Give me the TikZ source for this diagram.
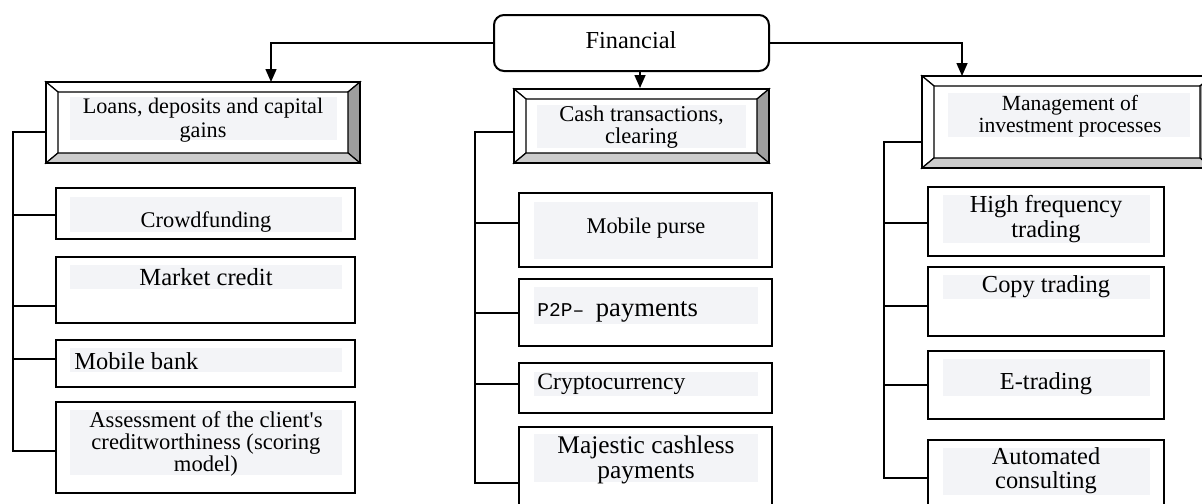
\documentclass[tikz,border=0pt]{standalone}
\usepackage{fontspec}
\setmainfont{Liberation Serif}
\setmonofont{Liberation Mono}
\usetikzlibrary{arrows.meta,fit}

\definecolor{paleshade}{RGB}{243,244,247}
\definecolor{bevelside}{RGB}{158,158,158}
\definecolor{bevelbase}{RGB}{204,204,204}

\newcommand{\fsz}[2]{\fontsize{#1}{#2}\selectfont}

\tikzset{
  link/.style={line width=0.75pt},
  arr/.style={link, -{Triangle[length=6.5pt,width=5.5pt]}},
  item/.style={draw, line width=1pt, fill=white, inner sep=0pt},
  txt/.style={inner sep=0pt, align=center, font=\fsz{11.2}{11}},
  big/.style={font=\fsz{12.2}{12.5}},
  bev/.style={line width=0.6pt},
}

% raised box: name, x1, y1, x2, y2
\newcommand{\bevelbox}[5]{%
  \node[item, fit={(#2,#3) (#4,#5)}] (#1) {};
  \filldraw[bev, fill=white] (#2,#3) -- (#4,#3) -- (#4-12,#3+10) -- (#2+12,#3+10) -- cycle;
  \filldraw[bev, fill=white] (#2,#3) -- (#2+12,#3+10) -- (#2+12,#5-10) -- (#2,#5) -- cycle;
  \filldraw[bev, fill=bevelside] (#4,#3) -- (#4,#5) -- (#4-12,#5-10) -- (#4-12,#3+10) -- cycle;
  \filldraw[bev, fill=bevelbase] (#2,#5) -- (#4,#5) -- (#4-12,#5-10) -- (#2+12,#5-10) -- cycle;
  \draw[line width=1pt] (#2,#3) rectangle (#4,#5);
}

\begin{document}
\begin{tikzpicture}[x=0.5pt, y=-0.5pt]
\useasboundingbox (0,0) rectangle (1202,503);
\clip (0,0) rectangle (1202,503);

% head
\node[item, rounded corners=5pt, fit={(494,15) (769,71)}] (fin) {};
\node[txt, big] (fintxt) at (631,40) {Financial};

% groups
\bevelbox{loans}{46}{82}{360}{163}
\fill[paleshade] (70,97) rectangle (337,140);
\node[txt, font=\fsz{11.1}{12}] (loanstxt) at (203,120) {Loans, deposits and capital\\gains};

\bevelbox{cash}{514}{89}{769}{163}
\fill[paleshade] (537,105) rectangle (746,148);
\node[txt, font=\fsz{11.3}{11}] (cashtxt) at (641.5,127) {Cash transactions,\\clearing};

\bevelbox{mgmt}{922}{76}{1212}{168}
\fill[paleshade] (948,93) rectangle (1190,137);
\node[txt, font=\fsz{10.8}{11}] (mgmttxt) at (1070,116) {Management of\\investment processes};

\draw[arr] (fin.west) -| (271,82);
\draw[arr] (fin.south -| 640,0) -- (cash.north -| 640,0);
\draw[arr] (fin.east) -| (962,76);

% left column
\node[item, fit={(56,188) (355,239)}] (crowd) {};
\fill[paleshade] (70,197) rectangle (342,232);
\node[txt] (crowdtxt) at (206,222) {Crowdfunding};

\node[item, fit={(56,257) (355,323)}] (mkt) {};
\fill[paleshade] (70,265) rectangle (342,289);
\node[txt, font=\fsz{12.3}{12}] (mkttxt) at (206,277) {Market credit};

\node[item, fit={(56,340) (355,387)}] (mob) {};
\fill[paleshade] (70,348) rectangle (342,372);
\node[txt, big, anchor=west] (mobtxt) at (74,361) {Mobile bank};

\node[item, fit={(56,402) (355,493)}] (assess) {};
\fill[paleshade] (70,410) rectangle (342,475);
\node[txt, font=\fsz{11.3}{10.8}] (assesstxt) at (206,444) {Assessment of the client\textquotesingle s\\creditworthiness (scoring\\model)};

\coordinate (busL) at (13,132);
\draw[link] (loans.west |- busL) -- (busL) |- (assess.west |- 0,451);
\draw[link] (busL |- 0,215) -- (crowd.west |- 0,215);
\draw[link] (busL |- 0,306) -- (mkt.west |- 0,306);
\draw[link] (busL |- 0,359) -- (mob.west |- 0,359);

% middle column
\node[item, fit={(519,193) (772,267)}] (purse) {};
\fill[paleshade] (534,202) rectangle (758,259);
\node[txt] (pursetxt) at (646,228) {Mobile purse};

\node[item, fit={(519,279) (772,346)}] (ptp) {};
\fill[paleshade] (534,287) rectangle (758,324);
\node[txt, anchor=west] (ptptxt) at (537,312) {{\ttfamily\fsz{9.75}{11}P2P– }\fsz{13.3}{13}payments};

\node[item, fit={(519,363) (772,413)}] (crypto) {};
\fill[paleshade] (534,372) rectangle (758,396);
\node[txt, font=\fsz{11.8}{12}, anchor=west] (cryptotxt) at (537,384) {Cryptocurrency};

\node[item, fit={(519,427) (772,530)}] (maj) {};
\fill[paleshade] (534,434) rectangle (758,482);
\node[txt, font=\fsz{12.7}{12.5}] (majtxt) at (646,459.5) {Majestic cashless\\payments};

\coordinate (busM) at (475,132);
\draw[link] (cash.west |- busM) -- (busM) |- (maj.west |- 0,483);
\draw[link] (busM |- 0,223) -- (purse.west |- 0,223);
\draw[link] (busM |- 0,313) -- (ptp.west |- 0,313);
\draw[link] (busM |- 0,384) -- (crypto.west |- 0,384);

% right column
\node[item, fit={(928,187) (1164,256)}] (hft) {};
\fill[paleshade] (943,195) rectangle (1150,243);
\node[txt, big] (hfttxt) at (1046,219.5) {High frequency\\trading};

\node[item, fit={(928,267) (1164,336)}] (copy) {};
\fill[paleshade] (943,275) rectangle (1150,299);
\node[txt, big] (copytxt) at (1046,287) {Copy trading};

\node[item, fit={(928,351) (1164,419)}] (etr) {};
\fill[paleshade] (943,359) rectangle (1150,396);
\node[txt, big] (etrtxt) at (1046,384) {E-trading};

\node[item, fit={(928,440) (1164,530)}] (auto) {};
\fill[paleshade] (943,448) rectangle (1150,495);
\node[txt, font=\fsz{12.2}{12}] (autotxt) at (1046,471) {Automated\\consulting};

\coordinate (busR) at (884,142);
\draw[link] (mgmt.west |- busR) -- (busR) |- (auto.west |- 0,478);
\draw[link] (busR |- 0,223) -- (hft.west |- 0,223);
\draw[link] (busR |- 0,306) -- (copy.west |- 0,306);
\draw[link] (busR |- 0,385) -- (etr.west |- 0,385);
\end{tikzpicture}
\end{document}
